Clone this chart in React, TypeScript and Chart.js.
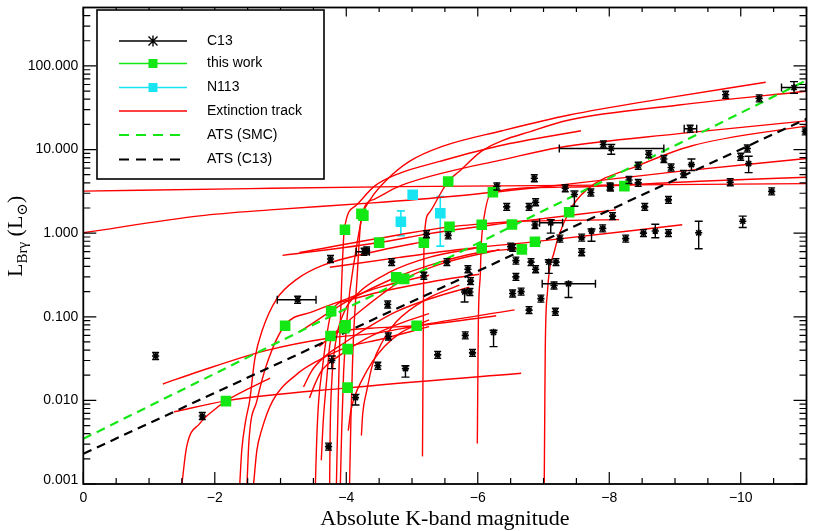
import React, { useEffect, useRef } from 'react';
import { Chart, registerables } from 'chart.js';

Chart.register(...registerables);

const RED = 'rgb(255,0,0)';
const GREEN = 'rgb(20,232,20)';
const CYAN = 'rgb(25,228,242)';
const SANS = '"Liberation Sans", Arial, Helvetica, sans-serif';
const SERIF = '"Liberation Serif", "DejaVu Serif", serif';

// ---- axis ticks ----
const xTickValues = [0, -2, -4, -6, -8, -10];
const xTickLabels = ['0', '\u22122', '\u22124', '\u22126', '\u22128', '\u221210'];
const yTickValues = [0.001, 0.01, 0.1, 1, 10, 100];
const yTickLabels = ['0.001', '0.010', '0.100', '1.000', '10.000', '100.000'];

// ---- this work (green squares) [M_K, L_Brg] ----
const greenPts: number[][] = [
  [-3.98, 1.10], [-4.23, 1.70], [-4.26, 1.62], [-4.50, 0.77], [-5.55, 4.15], [-6.23, 3.08],
  [-5.57, 1.19], [-6.06, 1.26], [-6.52, 1.27], [-7.39, 1.78], [-5.18, 0.77], [-6.06, 0.66],
  [-6.87, 0.79], [-6.67, 0.64], [-4.76, 0.297], [-4.88, 0.284], [-8.23, 3.65], [-3.07, 0.078],
  [-3.77, 0.117], [-3.76, 0.059], [-3.97, 0.073], [-3.99, 0.079], [-4.02, 0.041], [-4.02, 0.0142],
  [-2.17, 0.0098], [-5.07, 0.078],
];

// ---- N113 (cyan squares) ----
const cyanPts: number[][] = [[-5.01, 2.88], [-4.83, 1.37], [-5.43, 1.73]];
const cyanYErr: number[][] = [[1, 0.93, 1.85], [2, 0.70, 2.75]];

// ---- C13 (black asterisks) ----
const c13Pts: number[][] = [
  [-1.10, 0.034], [-1.81, 0.0065], [-3.26, 0.160], [-3.73, 0.0028], [-3.78, 0.030], [-4.14, 0.0108],
  [-4.48, 0.026], [-4.63, 0.14], [-4.64, 0.058], [-3.76, 0.49], [-4.27, 0.60], [-4.69, 0.45],
  [-6.86, 4.54], [-6.29, 3.62], [-7.33, 3.45], [-7.47, 2.9], [-7.72, 3.07], [-8.02, 3.52],
  [-6.44, 2.06], [-6.78, 2.06], [-6.88, 2.34], [-6.87, 1.25], [-7.11, 1.33], [-7.25, 0.86],
  [-7.58, 0.885], [-7.73, 1.06], [-7.90, 1.14], [-8.05, 1.6], [-7.58, 0.59], [-5.55, 0.94],
  [-5.22, 0.97], [-5.53, 0.45], [-5.85, 0.37], [-5.18, 0.31], [-5.89, 0.267], [-5.80, 0.198],
  [-6.50, 0.69], [-6.58, 0.47], [-6.58, 0.30], [-6.81, 0.45], [-6.88, 0.37], [-7.08, 0.45],
  [-7.19, 0.45], [-7.16, 0.237], [-7.38, 0.248], [-6.53, 0.19], [-6.66, 0.20], [-6.96, 0.165],
  [-6.78, 0.12], [-7.18, 0.115], [-4.90, 0.024], [-5.39, 0.035], [-5.81, 0.060], [-5.92, 0.037],
  [-6.24, 0.065], [-9.77, 45.2], [-10.28, 40.9], [-10.81, 55.2], [-9.23, 17.7], [-10.98, 16.5],
  [-7.91, 11.5], [-8.03, 10.3], [-8.60, 8.8], [-8.83, 7.7], [-8.44, 6.4], [-8.94, 6.1],
  [-9.25, 6.6], [-9.13, 5.1], [-10.10, 10.3], [-10.00, 8.2], [-10.12, 6.8], [-9.84, 4.06],
  [-10.47, 3.16], [-8.30, 4.33], [-8.44, 4.0], [-8.01, 3.62], [-8.90, 2.5], [-8.54, 2.06],
  [-10.03, 1.39], [-9.36, 1.01], [-8.90, 1.0], [-8.70, 1.06], [-8.52, 1.0], [-8.25, 0.86],
  [-6.53, 0.67], [-4.31, 0.62], [-5.88, 0.198],
];
// [index, low, high]
const c13YErr: number[][] = [
  [4, 0.024, 0.034], [5, 0.0088, 0.0118], [15, 2.1, 3.2], [22, 1.0, 1.45], [25, 0.80, 1.12],
  [35, 0.15, 0.21], [41, 0.33, 0.48], [44, 0.17, 0.26], [50, 0.019, 0.026], [54, 0.044, 0.069],
  [57, 47, 65], [61, 8.8, 11.5], [66, 5.6, 7.7], [70, 5.3, 8.3], [78, 1.17, 1.6], [79, 0.65, 1.39],
  [81, 0.88, 1.28],
];
const c13XErr: number[][] = [
  [2, -2.95, -3.54], [10, -4.15, -4.35], [22, -6.94, -7.29], [44, -6.98, -7.79],
  [57, -10.62, -10.99], [58, -9.14, -9.33], [61, -7.24, -8.83],
];

// ---- ATS lines ----
const atsSmc: number[][] = [[0, 0.00347], [-11, 67.3]];
const atsC13: number[][] = [[0, 0.0023], [-11, 23.3]];

// ---- extinction tracks ----
const trA = [[-3.91, 0.001], [-3.93, 0.00435], [-3.96, 0.0223], [-4.02, 0.115], [-4.13, 0.513], [-4.25, 1.66], [-4.38, 2.63], [-4.61, 4.30], [-4.96, 7.21], [-5.46, 10.9], [-6.37, 16.8], [-7.39, 25.9], [-8.86, 41.2], [-10.38, 63.8]];
const trB = [[-3.85, 0.001], [-3.87, 0.00572], [-3.90, 0.0506], [-3.93, 0.259], [-3.97, 1.10], [-4.14, 2.12], [-4.43, 3.65], [-4.81, 5.20], [-5.42, 7.21], [-6.33, 11.1], [-7.57, 16.8]];
const trC = [[-4.05, 0.001], [-4.07, 0.00572], [-4.10, 0.0385], [-4.16, 0.259], [-4.23, 1.57], [-4.43, 2.56], [-4.81, 3.65], [-5.57, 5.49], [-6.33, 7.41], [-7.24, 10.6], [-9.06, 15.5], [-11.0, 22.0]];
const trD = [[-5.159, 0.00214], [-5.166, 0.0170], [-5.174, 0.151], [-5.182, 0.773], [-5.26, 1.75], [-5.42, 2.86], [-5.55, 4.18], [-5.72, 5.49], [-6.07, 9.73], [-6.89, 17.3], [-7.39, 22.6], [-9.06, 34.1], [-11.0, 49.9]];
const trE = [[-7.011, 0.001], [-7.018, 0.00572], [-7.026, 0.0385], [-7.06, 0.198], [-7.16, 0.587], [-7.39, 1.80], [-7.65, 3.27], [-8.45, 6.47], [-9.26, 11.1], [-11.0, 19.2]];
const trF = [[-5.993, 0.00305], [-6.001, 0.0170], [-6.009, 0.0873], [-6.04, 0.341], [-6.05, 0.656], [-6.08, 1.26], [-6.22, 3.10], [-7.24, 3.55], [-9.37, 4.18], [-11.0, 4.66]];
const trG = [[-3.747, 0.001], [-3.755, 0.00435], [-3.78, 0.0170], [-3.84, 0.0506], [-3.97, 0.115], [-4.20, 0.198], [-4.66, 0.341], [-5.26, 0.513], [-6.02, 0.673]];
const tr01 = [[0, 3.18], [-2.53, 3.41], [-4.81, 3.60], [-7.85, 3.75], [-11.0, 3.91]];
const tr02 = [[0, 1.01], [-1.77, 1.61], [-2.84, 1.90], [-4.40, 2.30], [-5.67, 2.78], [-7.24, 3.75], [-9.06, 5.49], [-11.0, 7.82]];
const tr09 = [[-3.03, 0.542], [-4.51, 0.773], [-5.26, 0.986], [-6.33, 1.29], [-8.10, 1.90]];
const tr10 = [[-3.29, 0.587], [-4.81, 0.959], [-5.57, 1.19], [-6.05, 1.29], [-6.51, 1.37], [-8.15, 1.45]];
const tr11 = [[-3.75, 0.391], [-4.81, 0.513], [-5.72, 0.638], [-6.87, 0.792], [-9.11, 1.26]];
const tr13 = [[-3.29, 0.0664], [-4.05, 0.159], [-4.76, 0.297], [-5.26, 0.412], [-6.02, 0.587], [-6.63, 0.656]];
const tr14 = [[-3.59, 0.0442], [-4.20, 0.115], [-4.88, 0.282], [-5.42, 0.424], [-6.33, 0.638]];
const trLa = [[-1.50, 0.001], [-1.57, 0.00274], [-1.77, 0.00527], [-2.03, 0.00815], [-2.17, 0.00986], [-2.84, 0.0185]];
const trLb = [[-1.38, 0.00731], [-2.17, 0.00986], [-4.02, 0.0141], [-6.66, 0.0211]];
const trLc = [[-1.21, 0.0157], [-1.77, 0.0223], [-2.79, 0.0396], [-3.70, 0.0550], [-4.51, 0.0647], [-5.07, 0.0781], [-6.56, 0.121]];
const trL1 = [[-2.38, 0.001], [-2.41, 0.00252], [-2.47, 0.00572], [-2.53, 0.00986], [-2.61, 0.0318], [-2.73, 0.0721], [-2.94, 0.163], [-3.25, 0.282], [-3.64, 0.412], [-4.51, 0.621], [-5.26, 0.815]];
const trL2 = [[-2.49, 0.001], [-2.52, 0.00332], [-2.64, 0.00986], [-2.79, 0.0270], [-3.06, 0.0781], [-3.49, 0.115], [-4.00, 0.163], [-4.51, 0.226], [-5.26, 0.314]];
const trL3 = [[-2.59, 0.001], [-2.64, 0.00252], [-2.71, 0.00435], [-2.88, 0.00986], [-3.25, 0.0206], [-3.55, 0.0293], [-4.05, 0.0442], [-4.51, 0.0535], [-5.26, 0.0762]];
const trL4 = [[-3.35, 0.0145], [-3.47, 0.0223], [-3.64, 0.0318], [-4.00, 0.0506], [-4.40, 0.0804], [-4.76, 0.115], [-5.26, 0.163], [-5.87, 0.226]];
const trL5 = [[-3.44, 0.0107], [-3.53, 0.0161], [-3.62, 0.0223], [-3.90, 0.0345], [-4.28, 0.0535], [-4.81, 0.0826], [-5.26, 0.109]];
const trL6 = [[-3.53, 0.001], [-3.55, 0.00332], [-3.58, 0.00986], [-3.64, 0.0256], [-3.70, 0.058], [-3.78, 0.118], [-4.05, 0.159], [-4.51, 0.198], [-5.26, 0.259], [-6.02, 0.323]];
const trL7 = [[-3.62, 0.00192], [-3.65, 0.00572], [-3.70, 0.0170], [-3.76, 0.0506], [-3.97, 0.0682], [-4.51, 0.0741], [-5.07, 0.0781], [-6.28, 0.103]];
const trL8 = [[-4.03, 0.00435], [-4.07, 0.00752], [-4.13, 0.0113], [-4.23, 0.0170], [-4.40, 0.0293], [-4.58, 0.0442], [-4.81, 0.0630], [-5.26, 0.092]];
const trL9 = [[-4.23, 0.00380], [-4.25, 0.00692], [-4.31, 0.0129], [-4.40, 0.0270], [-4.55, 0.0506], [-4.76, 0.0873], [-5.22, 0.163], [-5.72, 0.239]];

const tracks = [trA, trB, trC, trD, trE, trF, trG, tr01, tr02, tr09, tr10, tr11, tr13, tr14,
  trLa, trLb, trLc, trL1, trL2, trL3, trL4, trL5, trL6, trL7, trL8, trL9];

const legendLabels = ['C13', 'this work', 'N113', 'Extinction track', 'ATS (SMC)', 'ATS (C13)'];

const toXY = (pts: number[][]) => pts.map(([x, y]) => ({ x, y }));

function errY(ctx: CanvasRenderingContext2D, x: number, y1: number, y2: number, cap: number) {
  ctx.beginPath();
  ctx.moveTo(x, y1); ctx.lineTo(x, y2);
  ctx.moveTo(x - cap, y1); ctx.lineTo(x + cap, y1);
  ctx.moveTo(x - cap, y2); ctx.lineTo(x + cap, y2);
  ctx.stroke();
}
function errX(ctx: CanvasRenderingContext2D, y: number, x1: number, x2: number, cap: number) {
  ctx.beginPath();
  ctx.moveTo(x1, y); ctx.lineTo(x2, y);
  ctx.moveTo(x1, y - cap); ctx.lineTo(x1, y + cap);
  ctx.moveTo(x2, y - cap); ctx.lineTo(x2, y + cap);
  ctx.stroke();
}

const overlay = {
  id: 'overlay',
  beforeDraw(chart: any) {
    const { ctx, width, height } = chart;
    ctx.save();
    ctx.fillStyle = '#fff';
    ctx.fillRect(0, 0, width, height);
    ctx.restore();
  },
  beforeDatasetsDraw(chart: any) {
    const { ctx, chartArea: a } = chart;
    const xs = chart.scales.x, ys = chart.scales.y;
    ctx.save();
    ctx.beginPath(); ctx.rect(a.left, a.top, a.right - a.left, a.bottom - a.top); ctx.clip();
    ctx.strokeStyle = CYAN; ctx.lineWidth = 1.6;
    cyanYErr.forEach(([i, lo, hi]) => {
      const p = cyanPts[i];
      errY(ctx, xs.getPixelForValue(p[0]), ys.getPixelForValue(lo), ys.getPixelForValue(hi), 4);
    });
    ctx.restore();
  },
  afterDatasetsDraw(chart: any) {
    const { ctx, chartArea: a } = chart;
    const xs = chart.scales.x, ys = chart.scales.y;
    ctx.save();
    ctx.beginPath(); ctx.rect(a.left, a.top, a.right - a.left, a.bottom - a.top); ctx.clip();
    ctx.strokeStyle = '#000'; ctx.lineWidth = 1.4;
    c13Pts.forEach(([x, y], i) => {
      const px = xs.getPixelForValue(x), py = ys.getPixelForValue(y);
      const e = c13YErr.find(r => r[0] === i);
      if (e) errY(ctx, px, ys.getPixelForValue(e[1]), ys.getPixelForValue(e[2]), 4);
      else errY(ctx, px, py - 3.5, py + 3.5, 3.5);
      const ex = c13XErr.find(r => r[0] === i);
      if (ex) errX(ctx, py, xs.getPixelForValue(ex[1]), xs.getPixelForValue(ex[2]), 4);
    });
    ctx.restore();
  },
  afterDraw(chart: any) {
    const { ctx, chartArea: a } = chart;
    const xs = chart.scales.x, ys = chart.scales.y;
    ctx.save();
    ctx.strokeStyle = '#000';
    ctx.fillStyle = '#000';
    // frame
    ctx.lineWidth = 1.8;
    ctx.strokeRect(a.left, a.top, a.right - a.left, a.bottom - a.top);
    // y ticks
    ctx.lineWidth = 1.2;
    ctx.beginPath();
    for (let d = -3; d <= 2; d++) {
      for (let m = 1; m <= 9; m++) {
        const v = m * Math.pow(10, d);
        if (v > 500) continue;
        const py = ys.getPixelForValue(v);
        const len = m === 1 ? 13 : 7;
        ctx.moveTo(a.left, py); ctx.lineTo(a.left + len, py);
        ctx.moveTo(a.right, py); ctx.lineTo(a.right - len, py);
      }
    }
    // x ticks
    for (let k = 0; k <= 22; k++) {
      const v = -k * 0.5;
      const px = xs.getPixelForValue(v);
      const len = k % 4 === 0 ? 12 : 6;
      ctx.moveTo(px, a.bottom); ctx.lineTo(px, a.bottom - len);
      ctx.moveTo(px, a.top); ctx.lineTo(px, a.top + len * 0.75);
    }
    ctx.stroke();
    // tick labels
    ctx.font = `14px ${SANS}`;
    ctx.textAlign = 'center';
    ctx.textBaseline = 'middle';
    xTickValues.forEach((v, i) => ctx.fillText(xTickLabels[i], xs.getPixelForValue(v), 498));
    ctx.textAlign = 'right';
    yTickValues.forEach((v, i) => {
      let py = ys.getPixelForValue(v);
      if (i === 0) py -= 4;
      ctx.fillText(yTickLabels[i], a.left - 5, py);
    });
    // x title
    ctx.font = `22px ${SERIF}`;
    ctx.textAlign = 'center';
    ctx.textBaseline = 'alphabetic';
    ctx.fillText('Absolute K-band magnitude', (a.left + a.right) / 2, 525);
    // y title
    ctx.save();
    ctx.translate(22, 277);
    ctx.rotate(-Math.PI / 2);
    ctx.textAlign = 'left';
    const big = `22px ${SERIF}`, small = `15px ${SERIF}`;
    const parts: [string, string, number][] = [['L', big, 0], ['Br\u03b3', small, 5], [' (L', big, 0], ['\u2299', small, 5], [')', big, 0]];
    let cx = 0;
    parts.forEach(([t, f, dy]) => { ctx.font = f; ctx.fillText(t, cx, dy); cx += ctx.measureText(t).width; });
    ctx.restore();
    // legend
    const bx = 97, by = 10, bw = 227, bh = 169;
    ctx.fillStyle = '#fff';
    ctx.fillRect(bx, by, bw, bh);
    ctx.lineWidth = 1.6;
    ctx.strokeStyle = '#000';
    ctx.strokeRect(bx, by, bw, bh);
    const rows = [41, 63.5, 87.5, 111, 135, 159.5];
    const x1 = 119, x2 = 187, mx = 153;
    const colors = ['#000', GREEN, CYAN, RED, GREEN, '#000'];
    rows.forEach((ry, i) => {
      ctx.strokeStyle = colors[i];
      ctx.lineWidth = i >= 4 ? 2 : 1.5;
      ctx.setLineDash(i >= 4 ? [10, 7] : []);
      ctx.beginPath(); ctx.moveTo(x1, ry); ctx.lineTo(i >= 4 ? 182 : x2, ry); ctx.stroke();
      ctx.setLineDash([]);
      if (i === 0) {
        ctx.lineWidth = 1.4;
        ctx.beginPath();
        ctx.moveTo(mx, ry - 5.5); ctx.lineTo(mx, ry + 5.5);
        ctx.moveTo(mx - 4.5, ry - 4.5); ctx.lineTo(mx + 4.5, ry + 4.5);
        ctx.moveTo(mx - 4.5, ry + 4.5); ctx.lineTo(mx + 4.5, ry - 4.5);
        ctx.stroke();
      } else if (i === 1 || i === 2) {
        ctx.fillStyle = colors[i];
        ctx.fillRect(mx - 4.5, ry - 4.5, 9, 9);
      }
      ctx.fillStyle = '#000';
      ctx.font = `14px ${SANS}`;
      ctx.textAlign = 'left';
      ctx.textBaseline = 'middle';
      ctx.fillText(legendLabels[i], 207, ry);
    });
    ctx.restore();
  },
};

export default function App() {
  const ref = useRef<HTMLCanvasElement>(null);
  useEffect(() => {
    if (!ref.current) return;
    const datasets: any[] = [
      { label: 'this work', data: toXY(greenPts), showLine: false, pointStyle: 'rect', pointRadius: 7.5, backgroundColor: GREEN, borderWidth: 0, order: 0 },
      { label: 'N113', data: toXY(cyanPts), showLine: false, pointStyle: 'rect', pointRadius: 7.5, backgroundColor: CYAN, borderWidth: 0, order: 0 },
      { label: 'C13', data: toXY(c13Pts), showLine: false, pointStyle: 'star', pointRadius: 3.6, borderColor: '#000', backgroundColor: '#000', borderWidth: 1.6, order: 1 },
      { label: 'ATS (SMC)', data: toXY(atsSmc), showLine: true, borderColor: GREEN, borderWidth: 2.2, borderDash: [9, 6], pointRadius: 0, order: 2 },
      { label: 'ATS (C13)', data: toXY(atsC13), showLine: true, borderColor: '#000', borderWidth: 2.2, borderDash: [9, 6], pointRadius: 0, order: 2 },
      ...tracks.map((t, i) => ({
        label: `track ${i}`, data: toXY(t), showLine: true, borderColor: RED, borderWidth: 1.4,
        pointRadius: 0, cubicInterpolationMode: 'monotone', order: 3,
      })),
    ];
    const chart = new Chart(ref.current, {
      type: 'scatter',
      data: { datasets },
      options: {
        animation: false,
        responsive: true,
        maintainAspectRatio: false,
        events: [],
        layout: { padding: { left: 83.3, right: 6.7, top: 2.7, bottom: 47 } },
        plugins: { legend: { display: false }, tooltip: { enabled: false } },
        scales: {
          x: { type: 'linear', min: -11, max: 0, reverse: true, display: false },
          y: { type: 'logarithmic', min: 0.001, max: 500, display: false },
        },
      } as any,
      plugins: [overlay],
    });
    return () => chart.destroy();
  }, []);
  return (
    <div style={{ position: 'fixed', left: 0, top: 0, width: 814, height: 531, background: '#fff' }}>
      <canvas ref={ref} />
    </div>
  );
}
